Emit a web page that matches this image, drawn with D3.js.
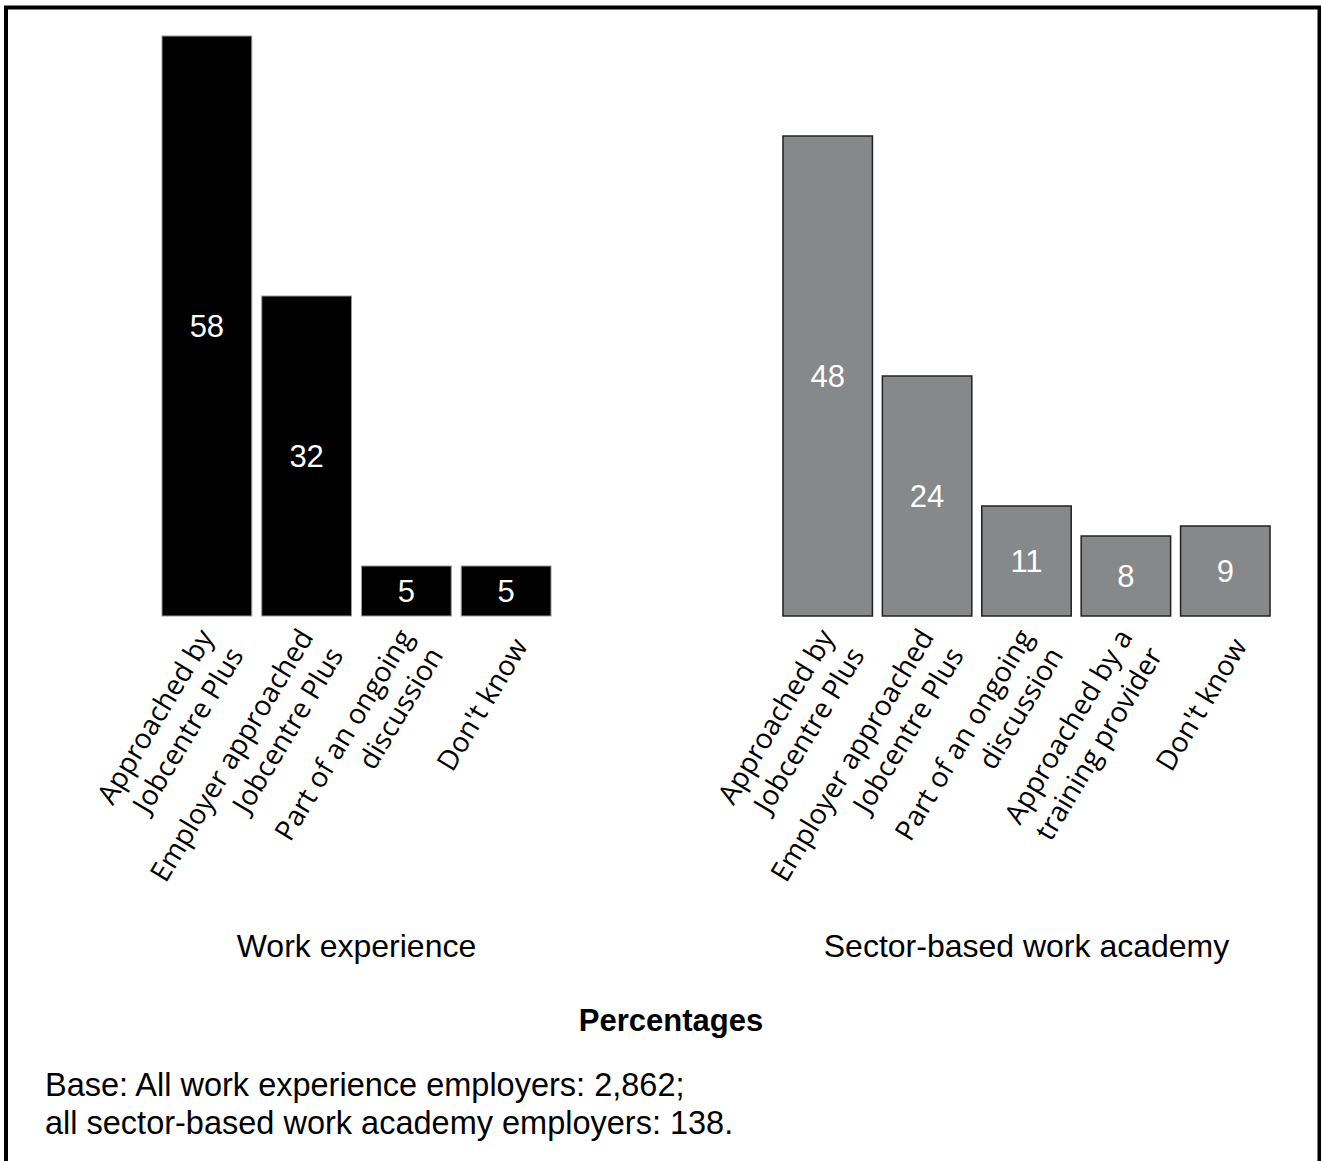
<!DOCTYPE html>
<html><head><meta charset="utf-8">
<script src="https://cdn.jsdelivr.net/npm/d3@7"></script>
<style>html,body{margin:0;padding:0;background:#fff;}svg{display:block;}</style>
</head><body>
<script>
// Data
const leftCategories = [["Approached by","Jobcentre Plus"],["Employer approached","Jobcentre Plus"],["Part of an ongoing","discussion"],["Don't know"]];
const leftValues = [58, 32, 5, 5];
const rightCategories = [["Approached by","Jobcentre Plus"],["Employer approached","Jobcentre Plus"],["Part of an ongoing","discussion"],["Approached by a","training provider"],["Don't know"]];
const rightValues = [48, 24, 11, 8, 9];
const panelTitles = ["Work experience", "Sector-based work academy"];
const axisTitle = "Percentages";
const baseNote = ["Base: All work experience employers: 2,862;", "all sector-based work academy employers: 138."];

const W = 1321, H = 1161;
const svg = d3.select("body").append("svg").attr("width", W).attr("height", H);

svg.append("rect").attr("x", 6).attr("y", 7.5).attr("width", 1313.5).attr("height", 1165)
  .attr("fill", "#fff").attr("stroke", "#000").attr("stroke-width", 4);

const y = d3.scaleLinear().domain([0, 60]).range([616, 16]);
const ANGLE = -59, LINE_H = 35;

function panel(cats, vals, range, fill, stroke, sw, title) {
  const keys = cats.map((c, i) => i);
  const x = d3.scaleBand().domain(keys).range(range).paddingInner(0.1).paddingOuter(0.05);
  const g = svg.append("g");
  g.selectAll("rect.bar").data(vals).join("rect").attr("class", "bar")
    .attr("x", (d, i) => x(i)).attr("width", x.bandwidth())
    .attr("y", d => y(d)).attr("height", d => y(0) - y(d))
    .attr("fill", fill).attr("stroke", stroke).attr("stroke-width", sw);
  g.selectAll("text.val").data(vals).join("text").attr("class", "val")
    .attr("x", (d, i) => x(i) + x.bandwidth() / 2)
    .attr("y", d => (y(d) + y(0)) / 2)
    .attr("dy", "0.35em").attr("text-anchor", "middle")
    .attr("font-family", "Liberation Sans, Arial, sans-serif").attr("font-size", 31)
    .attr("fill", "#fff").text(d => d);
  // rotated category labels
  const lg = g.selectAll("g.lab").data(cats).join("g").attr("class", "lab")
    .attr("transform", (d, i) => `translate(${x(i) + x.bandwidth() / 2},${y(0)}) rotate(${ANGLE})`);
  lg.each(function(lines) {
    const n = lines.length;
    d3.select(this).selectAll("text").data(lines).join("text")
      .attr("x", -14)
      .attr("y", (d, j) => 25 + (j - (n - 1) / 2) * LINE_H)
      .attr("dy", "0.35em")
      .attr("text-anchor", "end")
      .attr("font-family", "Open Sans, sans-serif").attr("font-size", 28)
      .attr("fill", "#000").text(d => d);
  });
  svg.append("text").attr("x", (range[0] + range[1]) / 2).attr("y", 957)
    .attr("text-anchor", "middle").attr("font-family", "Liberation Sans, Arial, sans-serif")
    .attr("font-size", 32).attr("fill", "#000").text(title);
}

panel(leftCategories, leftValues, [157, 556], "#000", "#999", 1, panelTitles[0]);
panel(rightCategories, rightValues, [778, 1275], "#878889", "#222", 1.5, panelTitles[1]);

svg.append("text").attr("x", 671).attr("y", 1031).attr("text-anchor", "middle")
  .attr("font-family", "Liberation Sans, Arial, sans-serif").attr("font-size", 31)
  .attr("font-weight", "bold").text(axisTitle);

svg.selectAll("text.note").data(baseNote).join("text").attr("class", "note")
  .attr("x", 45).attr("y", (d, i) => 1096 + i * 38)
  .attr("font-family", "Liberation Sans, Arial, sans-serif").attr("font-size", 32.5)
  .text(d => d);
</script>
</body></html>
